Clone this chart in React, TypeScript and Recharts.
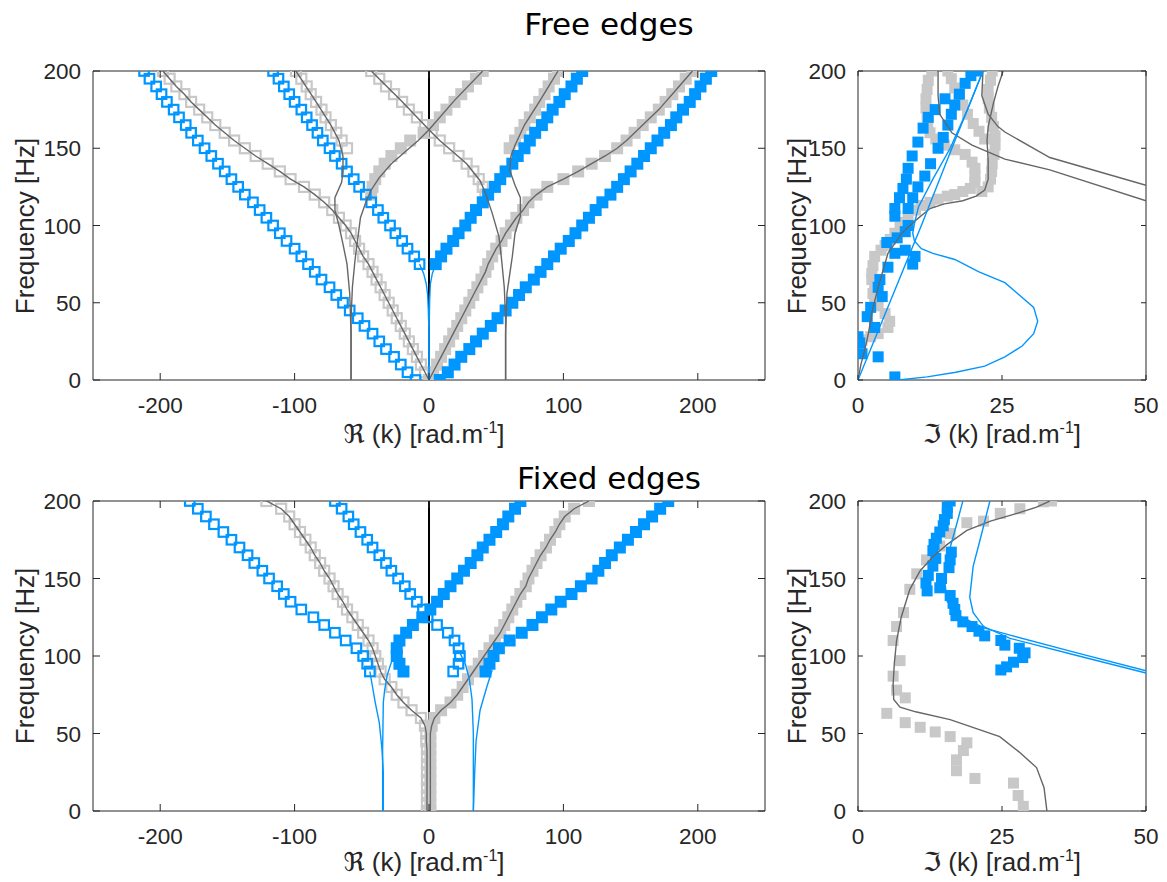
import React from "react";
import { ScatterChart, Scatter, XAxis, YAxis, ReferenceLine } from "recharts";

// shared frequency grid of the measured points [Hz]
const FREQ = [0, 5, 10, 15, 20, 25, 30, 35, 40, 45, 50, 55, 60, 65, 70, 75, 80, 85, 90, 95, 100,
  105, 110, 115, 120, 125, 130, 135, 140, 145, 150, 155, 160, 165, 170, 175, 180, 185, 190, 195, 200];

const RE_TICKS = [-200, -100, 0, 100, 200];
const IM_TICKS = [0, 25, 50];
const F_TICKS = [0, 50, 100, 150, 200];

// ---- free edges, real part (k values, starting at the given frequency)
const FREE_BLUE_OPEN_A = [-10, -16, -21, -26, -32, -37, -42, -48, -53, -59, -64, -69, -74, -80, -85, -90, -95, -100, -106, -111, -116, -121, -126, -131, -137, -142, -147, -152, -157, -162, -167, -172, -177, -181, -186, -190, -195, -199, -203, -208, -212];
const FREE_BLUE_FILLED_A = [8, 14, 19, 24, 30, 35, 40, 46, 51, 57, 62, 67, 72, 78, 83, 88, 93, 98, 104, 109, 114, 119, 124, 129, 135, 140, 145, 150, 155, 160, 165, 170, 175, 180, 184, 189, 194, 198, 202, 206, 210];
const FREE_BLUE_OPEN_B = [-7, -11, -16, -20, -25, -29, -34, -38, -43, -47, -52, -56, -61, -65, -70, -74, -79, -83, -87, -91, -95, -100, -104, -108, -112, -116]; // from 75 Hz
const FREE_BLUE_FILLED_B = [5, 9, 13, 18, 22, 27, 31, 35, 40, 44, 49, 53, 57, 62, 66, 71, 75, 79, 84, 88, 92, 97, 101, 106, 110, 114]; // from 75 Hz
const FREE_GRAY_OPEN_C = [0, -3, -6, -9, -12, -15, -18, -21, -24, -27, -30, -33, -36, -39, -42, -45, -49, -52, -55, -58, -62, -67, -72, -78, -85, -93, -103, -111, -120, -129, -137, -145, -152, -159, -165, -171, -177, -182, -188, -193, -198];
const FREE_GRAY_FILLED_C = [0, 3, 6, 9, 12, 15, 18, 21, 24, 27, 30, 33, 36, 39, 42, 44, 47, 50, 54, 57, 61, 65, 70, 74, 80, 88, 100, 111, 121, 131, 140, 147, 153, 159, 165, 171, 176, 181, 186, 191, 196];
const FREE_GRAY_OPEN_D = [-61, -65, -69, -73, -77, -80, -84, -88, -91, -95, -99]; // from 150 Hz
const FREE_GRAY_FILLED_D = [60, 64, 68, 71, 75, 79, 82, 86, 89, 93, 96]; // from 150 Hz
const FREE_GRAY_OPEN_E = [-3, -9, -15, -20, -26, -32, -37, -43]; // from 165 Hz
const FREE_GRAY_FILLED_E = [3, 8, 13, 19, 24, 29, 35, 40]; // from 165 Hz
const FREE_GRAY_OPEN_F = [42, 40, 37, 33, 28, 22, 15, 8, 2]; // from 120 Hz
const FREE_GRAY_FILLED_F = [-43, -42, -40, -37, -33, -28, -21, -14, -4]; // from 120 Hz

// model curves [k, f]
const FREE_LINE_D_NEG = [[-99, 200], [-84, 180], [-73, 165], [-67, 155], [-64, 145], [-64, 135], [-65, 128], [-70, 118], [-70, 110], [-67, 100], [-64, 88], [-61, 75], [-59, 56], [-58, 30], [-58, 0]];
const FREE_LINE_D_POS = [[96, 200], [82, 180], [71, 165], [64, 152], [61, 145], [60, 136], [64, 126], [68, 118], [68, 106], [64, 95], [62, 80], [58, 56], [57, 30], [57, 0]];
const FREE_LINE_EF_A = [[-43, 200], [-21, 181], [0, 162], [8, 155], [16, 149], [28, 140], [38, 129], [42, 121], [47, 108], [52, 93], [54, 78], [56, 60], [57, 40], [57, 0]];
const FREE_LINE_EF_B = [[40, 200], [19, 181], [0, 162], [-8, 155], [-16, 149], [-28, 140], [-37, 131], [-43, 123], [-47, 115], [-51, 105], [-55, 78], [-57, 60], [-58, 40], [-58, 0]];
const FREE_BLUE_LINE_NEG = [[-7, 75], [-4, 69], [-2, 62], [-1, 55], [-0.5, 45], [0, 30], [0, 0]];
const FREE_BLUE_LINE_POS = [[5, 75], [2.5, 69], [1, 62], [0.5, 52], [0, 30], [0, 0]];

// ---- free edges, imaginary part [k, f]
const FREE_IM_BLUE = [[6.4, 2], [3.5, 15], [0.7, 17], [0.3, 24], [0, 28], [2.9, 34], [1.6, 41], [2.2, 47], [4.2, 54], [3.5, 60], [3.8, 65], [5.2, 73], [6.4, 82], [8.2, 84], [9.9, 80], [9.5, 75], [5, 89], [6.8, 92], [8.2, 96], [8.7, 100], [6.4, 106], [6.4, 111], [7.2, 118], [7.8, 124], [8.4, 130], [8.7, 137], [9.4, 145], [10.4, 154], [11.3, 163], [12.2, 170], [13.4, 175], [15.1, 182], [8.7, 111], [9.5, 118], [10.4, 125], [11.6, 132], [12.6, 140], [13.9, 150], [14.8, 157], [15.6, 165], [16.2, 172], [16.8, 178], [17.6, 185], [18.6, 192], [19.6, 197], [20.6, 200]];
const FREE_IM_GRAY = [[0.7, 26], [2.2, 28], [3.5, 30], [5.2, 34], [5.5, 38], [4.7, 43], [3.5, 48], [2.9, 52], [2.6, 56], [2.9, 60], [2.4, 65], [2.4, 69], [2.6, 74], [2.9, 80], [4, 84], [4.7, 87], [5.6, 91], [6.4, 95], [7.3, 99], [8.2, 102], [8.7, 106], [10, 110], [11, 113], [12.5, 115], [13.9, 117], [15.5, 119], [16.8, 120], [18.2, 122], [19.5, 124], [20.3, 128], [20.3, 132], [20.3, 137], [19.8, 141], [18.6, 146], [16.8, 149], [15, 152], [13.5, 156], [12.5, 160], [12.1, 165], [12, 170], [11.8, 176], [11.8, 182], [12, 188], [12.2, 194], [12.8, 200],
  [15.6, 200], [16.2, 195], [16.8, 189], [17.5, 184], [18.2, 178], [19, 172], [20, 166], [21, 161], [22, 156],
  [23.3, 200], [23, 194], [22.6, 188], [22.6, 182], [22.8, 176], [23.2, 170], [23.5, 164], [23.8, 158], [23.8, 152], [23.6, 146], [23.3, 140], [23.2, 135], [23, 130], [22.6, 125], [21.5, 122]];
const FREE_IM_G1 = [[0, 0], [0.5, 10], [1.2, 20], [1.8, 30], [2.5, 45], [3.5, 60], [5.2, 82], [7.6, 95], [9.9, 103], [12.5, 111], [15, 114], [18.2, 116], [20.5, 119], [22, 123], [22.6, 130], [22.6, 142], [22.4, 155], [22.6, 164], [23.5, 179], [24.3, 190], [25.2, 200]];
const FREE_IM_G2 = [[13.9, 200], [13.9, 184], [14.2, 172], [16.3, 160], [19.8, 152], [25.5, 143], [33.3, 136], [50, 116]];
const FREE_IM_G3 = [[21.7, 200], [21.5, 184], [22.6, 172], [24.3, 164], [25.5, 160.5], [33.3, 144], [50, 126]];
const FREE_IM_BLUE_LOOP = [[7, 0], [12, 2], [17, 5], [22, 9], [25.5, 15], [28.5, 22], [30.5, 30], [31.2, 38], [30.5, 47], [28, 55], [25.5, 63], [21, 70], [16.8, 78], [13, 82], [11, 85], [9.8, 90], [9.5, 95], [9.9, 103], [10.5, 112], [13, 130], [16, 150], [19, 175], [21.7, 200]];
const FREE_IM_BLUE_STRAIGHT = [[0, 0], [5.5, 50], [11, 100], [16.3, 150], [21.7, 200]];

// ---- fixed edges, real part (from 90 Hz unless noted)
const FIX_BLUE_OPEN_A = [-44, -46, -49, -54, -62, -70, -78, -86, -95, -103, -108, -113, -119, -124, -130, -135, -141, -147, -153, -160, -166, -172, -178];
const FIX_BLUE_FILLED_A = [42, 45, 48, 52, 60, 69, 77, 84, 91, 98, 106, 113, 121, 126, 131, 136, 142, 148, 154, 160, 166, 172, 178];
const FIX_BLUE_OPEN_B = [18, 22, 23, 22, 19, 14, 6, -1, -4.5, -9, -14, -18, -23, -28, -32, -37, -42, -46, -51, -56, -60, -65, -70];
const FIX_BLUE_FILLED_B = [-19, -22, -24, -24, -22, -17, -12, -5, 1, 6, 11, 16, 21, 26, 31, 36, 40, 45, 50, 55, 59, 64, 68];
const FIX_GRAY_OPEN = [-1.5, -1.5, -1.5, -1.5, -1.5, -1.5, -1.5, -1.5, -1.5, -2, -2, -3, -6, -13, -19, -24, -28, -33, -36, -38, -40, -42, -45, -49, -53, -57, -61, -64, -68, -71, -74, -78, -81, -85, -88, -92, -96, -100, -104, -110, -121]; // from 0 Hz
const FIX_GRAY_FILLED = [1, 1, 1, 1, 1, 1, 1, 1, 1, 1, 1, 2, 4, 9, 16, 21, 25, 29, 33, 37, 41, 45, 49, 53, 56, 59, 62, 65, 68, 72, 74, 77, 80, 83, 87, 90, 94, 97, 101, 108, 119]; // from 0 Hz
const FIX_BLUE_LINE_A = [[-44, 90], [-42, 80], [-40, 70], [-37, 57], [-35, 40], [-34, 25], [-34, 0]];
const FIX_BLUE_LINE_B = [[-24, 102], [-28, 96], [-31, 88], [-33, 78], [-34, 70], [-34.5, 40], [-34.5, 0]];
const FIX_BLUE_LINE_C = [[47, 91], [43, 80], [38, 65], [35, 45], [34, 25], [33, 0]];
const FIX_BLUE_LINE_D = [[23, 102], [27, 95], [30, 85], [32, 72], [33, 50], [33, 0]];

// ---- fixed edges, imaginary part [k, f]
const FIX_IM_GRAY = [[28.7, 3], [27.8, 10], [27, 18], [20.3, 21], [17.1, 26], [17.1, 33], [18.3, 39], [18.9, 44], [16, 48], [13.4, 51], [10.8, 54], [8.2, 57], [5, 63], [8.2, 73], [6.7, 78], [6.1, 87], [7.3, 97], [6.1, 110], [6.7, 119], [7.9, 128], [9, 143], [10.2, 153], [11.9, 162], [14.2, 171], [16, 179], [18.9, 186], [21.8, 187], [24.7, 192], [28.1, 195], [32.2, 199.5], [33.6, 200]];
const FIX_IM_BLUE = [[16, 200], [15.5, 196], [15.5, 192], [15, 188], [14.8, 184], [14.2, 180], [13.6, 176], [13.2, 172], [13, 168], [16.2, 167], [16, 162], [15.8, 157], [13.5, 163], [13, 158], [12.2, 152], [11.8, 147], [12, 142], [14.5, 150], [14.2, 144], [16, 139], [16.5, 134], [16.8, 130], [17, 126], [18.2, 122], [19.8, 119], [21, 116], [22, 113], [24.8, 110], [25.5, 107], [28, 105], [29, 102], [28.6, 99], [27, 96], [25.8, 93], [24.8, 91]];
const FIX_IM_GRAY_LINE = [[32.8, 0], [32.3, 15], [31, 28], [28, 38], [24.6, 48], [16, 59], [10, 64], [7.3, 67], [6.2, 72], [6.1, 82], [6.3, 95], [6.7, 110], [7.5, 125], [9, 143], [10.8, 155], [13, 164], [15.5, 172], [18.9, 181], [23, 187], [27.6, 192], [31, 196], [33.3, 200]];
const FIX_IM_BLUE_LINE_A = [[18.2, 200], [17.2, 186], [16, 170], [15, 150], [15.5, 135], [18, 125], [22, 118], [26.4, 113.5], [38, 102], [50, 90.5]];
const FIX_IM_BLUE_LINE_B = [[22.9, 200], [21.2, 175], [20, 158], [19.4, 138], [20, 128], [21.8, 119], [26.4, 111.4], [38, 100.3], [50, 89]];

const BLUE = "#0096FF";
const GRAY = "#C8C8C8";
const DARK = "#666666";
const AX = "#262626";
const FONT = '"Liberation Sans", Arial, Helvetica, sans-serif';
const TICK_FS = 22.5;
const LABEL_FS = 26;

type Pt = { k: number; f: number };
type Kind = "openBlue" | "fillBlue" | "openGray" | "fillGray" | "lineGray" | "lineBlue";
type Series = { kind: Kind; data: Pt[] };

const fromF = (start: number, ks: number[]): Pt[] => {
  const i0 = FREQ.indexOf(start);
  return ks.map((k, i) => ({ k, f: FREQ[i0 + i] }));
};
const pairs = (arr: number[][]): Pt[] => arr.map(([k, f]) => ({ k, f }));

const square = (size: number, color: string, open: boolean) => (p: any) =>
  open ? (
    <rect x={p.cx - size / 2} y={p.cy - size / 2} width={size} height={size} fill="none" stroke={color} strokeWidth={2.2} />
  ) : (
    <rect x={p.cx - size / 2} y={p.cy - size / 2} width={size} height={size} fill={color} />
  );

const noShape = () => <g />;

// axis band sizes (kept > 0 so recharts draws the axes)
const XA_H = 40;
const YA_W = 60;
const TOP_H = 2;
const RIGHT_W = 2;

function Panel({
  width, height, plot, xDomain, xTicks, series, zeroLine, tickLen, big,
}: {
  width: number; height: number; plot: { top: number; right: number; bottom: number; left: number };
  xDomain: [number, number]; xTicks: number[]; series: Series[]; zeroLine?: boolean; tickLen: number; big: boolean;
}) {
  const margin = {
    top: plot.top - TOP_H,
    right: plot.right - RIGHT_W,
    bottom: plot.bottom - XA_H,
    left: plot.left - YA_W,
  };
  const bottomTick = (p: any) => (
    <g>
      <line x1={p.x} x2={p.x} y1={p.y} y2={p.y - tickLen} stroke={AX} />
      <text x={p.x} y={p.y + 33} textAnchor="middle" fontSize={TICK_FS} fill={AX} fontFamily={FONT}>{p.payload.value}</text>
    </g>
  );
  const leftTick = (p: any) => (
    <g>
      <line x1={p.x} x2={p.x + tickLen} y1={p.y} y2={p.y} stroke={AX} />
      <text x={p.x - 12} y={p.y + 8} textAnchor="end" fontSize={TICK_FS} fill={AX} fontFamily={FONT}>{p.payload.value}</text>
    </g>
  );
  const topTick = (p: any) => <line x1={p.x} x2={p.x} y1={p.y} y2={p.y + tickLen} stroke={AX} />;
  const rightTick = (p: any) => <line x1={p.x} x2={p.x - tickLen} y1={p.y} y2={p.y} stroke={AX} />;

  const fillSize = big ? 12 : 11;
  const render = (s: Series, i: number) => {
    const common = { key: i, data: s.data, xAxisId: "b", yAxisId: "l", isAnimationActive: false, legendType: "none" as const };
    switch (s.kind) {
      case "openBlue":
        return <Scatter {...common} shape={square(9.5, BLUE, true)} />;
      case "fillBlue":
        return <Scatter {...common} shape={square(fillSize, BLUE, false)} />;
      case "openGray":
        return <Scatter {...common} shape={square(10, GRAY, true)} />;
      case "fillGray":
        return <Scatter {...common} shape={square(fillSize, GRAY, false)} />;
      case "lineGray":
        return <Scatter {...common} fill="none" line={{ stroke: DARK, strokeWidth: 1.4 }} shape={noShape} />;
      default:
        return <Scatter {...common} fill="none" line={{ stroke: BLUE, strokeWidth: 1.4 }} shape={noShape} />;
    }
  };

  const markers = series.filter((s) => !s.kind.startsWith("line"));
  const lines = series.filter((s) => s.kind.startsWith("line"));

  return (
    <ScatterChart width={width} height={height} margin={margin}>
      <XAxis xAxisId="b" type="number" dataKey="k" domain={xDomain} ticks={xTicks} allowDataOverflow interval={0}
        height={XA_H} tickSize={0} tickMargin={0} tickLine={false} axisLine={{ stroke: AX }} tick={bottomTick} />
      <XAxis xAxisId="t" orientation="top" type="number" dataKey="k" domain={xDomain} ticks={xTicks} allowDataOverflow interval={0}
        height={TOP_H} tickSize={0} tickMargin={0} tickLine={false} axisLine={{ stroke: AX }} tick={topTick} />
      <YAxis yAxisId="l" type="number" dataKey="f" domain={[0, 200]} ticks={F_TICKS} allowDataOverflow interval={0}
        width={YA_W} tickSize={0} tickMargin={0} tickLine={false} axisLine={{ stroke: AX }} tick={leftTick} />
      <YAxis yAxisId="r" orientation="right" type="number" dataKey="f" domain={[0, 200]} ticks={F_TICKS} allowDataOverflow interval={0}
        width={RIGHT_W} tickSize={0} tickMargin={0} tickLine={false} axisLine={{ stroke: AX }} tick={rightTick} />
      {markers.filter((s) => s.kind.endsWith("Gray")).map(render)}
      {markers.filter((s) => s.kind.endsWith("Blue")).map(render)}
      {zeroLine && <ReferenceLine x={0} xAxisId="b" yAxisId="l" stroke="#000" strokeWidth={2} />}
      {lines.filter((s) => s.kind === "lineGray").map(render)}
      {lines.filter((s) => s.kind === "lineBlue").map(render)}
    </ScatterChart>
  );
}

const freeReal: Series[] = [
  { kind: "openGray", data: fromF(0, FREE_GRAY_OPEN_C) },
  { kind: "fillGray", data: fromF(0, FREE_GRAY_FILLED_C) },
  { kind: "openGray", data: fromF(150, FREE_GRAY_OPEN_D) },
  { kind: "fillGray", data: fromF(150, FREE_GRAY_FILLED_D) },
  { kind: "openGray", data: fromF(165, FREE_GRAY_OPEN_E) },
  { kind: "fillGray", data: fromF(165, FREE_GRAY_FILLED_E) },
  { kind: "openGray", data: fromF(120, FREE_GRAY_OPEN_F) },
  { kind: "fillGray", data: fromF(120, FREE_GRAY_FILLED_F) },
  { kind: "openBlue", data: fromF(0, FREE_BLUE_OPEN_A) },
  { kind: "fillBlue", data: fromF(0, FREE_BLUE_FILLED_A) },
  { kind: "openBlue", data: fromF(75, FREE_BLUE_OPEN_B) },
  { kind: "fillBlue", data: fromF(75, FREE_BLUE_FILLED_B) },
  { kind: "lineGray", data: [...fromF(0, FREE_GRAY_OPEN_C).reverse(), ...fromF(0, FREE_GRAY_FILLED_C)] },
  { kind: "lineGray", data: pairs(FREE_LINE_D_NEG) },
  { kind: "lineGray", data: pairs(FREE_LINE_D_POS) },
  { kind: "lineGray", data: pairs(FREE_LINE_EF_A) },
  { kind: "lineGray", data: pairs(FREE_LINE_EF_B) },
  { kind: "lineBlue", data: pairs(FREE_BLUE_LINE_NEG) },
  { kind: "lineBlue", data: pairs(FREE_BLUE_LINE_POS) },
];

const freeImag: Series[] = [
  { kind: "fillGray", data: pairs(FREE_IM_GRAY) },
  { kind: "fillBlue", data: pairs(FREE_IM_BLUE) },
  { kind: "lineGray", data: pairs(FREE_IM_G1) },
  { kind: "lineGray", data: pairs(FREE_IM_G2) },
  { kind: "lineGray", data: pairs(FREE_IM_G3) },
  { kind: "lineBlue", data: pairs(FREE_IM_BLUE_LOOP) },
  { kind: "lineBlue", data: pairs(FREE_IM_BLUE_STRAIGHT) },
];

const fixReal: Series[] = [
  { kind: "openGray", data: fromF(0, FIX_GRAY_OPEN) },
  { kind: "fillGray", data: fromF(0, FIX_GRAY_FILLED) },
  { kind: "openBlue", data: fromF(90, FIX_BLUE_OPEN_A) },
  { kind: "fillBlue", data: fromF(90, FIX_BLUE_FILLED_A) },
  { kind: "openBlue", data: fromF(90, FIX_BLUE_OPEN_B) },
  { kind: "fillBlue", data: fromF(90, FIX_BLUE_FILLED_B) },
  { kind: "lineGray", data: [...fromF(0, FIX_GRAY_OPEN).reverse(), ...fromF(0, FIX_GRAY_FILLED)] },
  { kind: "lineBlue", data: pairs(FIX_BLUE_LINE_A) },
  { kind: "lineBlue", data: pairs(FIX_BLUE_LINE_B) },
  { kind: "lineBlue", data: pairs(FIX_BLUE_LINE_C) },
  { kind: "lineBlue", data: pairs(FIX_BLUE_LINE_D) },
];

const fixImag: Series[] = [
  { kind: "fillGray", data: pairs(FIX_IM_GRAY) },
  { kind: "fillBlue", data: pairs(FIX_IM_BLUE) },
  { kind: "lineGray", data: pairs(FIX_IM_GRAY_LINE) },
  { kind: "lineBlue", data: pairs(FIX_IM_BLUE_LINE_A) },
  { kind: "lineBlue", data: pairs(FIX_IM_BLUE_LINE_B) },
];

const txt: React.CSSProperties = {
  position: "absolute", fontFamily: FONT, fontSize: LABEL_FS, color: AX, whiteSpace: "nowrap", lineHeight: 1,
};
const title: React.CSSProperties = {
  position: "absolute", fontFamily: '"DejaVu Sans", Verdana, sans-serif', fontSize: 31, color: "#000",
  whiteSpace: "nowrap", lineHeight: 1, transform: "translateX(-50%)",
};
const sup = <sup style={{ fontSize: 16, lineHeight: 0 }}>-1</sup>;

function XLabel({ x, y, re }: { x: number; y: number; re: boolean }) {
  return (
    <div style={{ ...txt, left: x, top: y, transform: "translate(-50%,-50%)" }}>
      <span style={{ fontFamily: '"DejaVu Sans", sans-serif' }}>{re ? "\u211C" : "\u2111"}</span> (k) [rad.m{sup}]
    </div>
  );
}
function YLabel({ x, y }: { x: number; y: number }) {
  return (
    <div style={{ ...txt, left: x, top: y, transform: "translate(-50%,-50%) rotate(-90deg)" }}>Frequency [Hz]</div>
  );
}

export default function App() {
  const leftPlot = { top: 31, right: 25, bottom: 80, left: 93 };
  const rightPlot = { top: 31, right: 21, bottom: 80, left: 68 };
  const leftPlotB = { top: 31, right: 25, bottom: 79, left: 93 };
  const rightPlotB = { top: 31, right: 21, bottom: 79, left: 68 };
  return (
    <div style={{ position: "absolute", left: 0, top: 0, width: 1167, height: 882, background: "#fff", overflow: "hidden" }}>
      <div style={{ position: "absolute", left: 0, top: 40 }}>
        <Panel width={790} height={420} plot={leftPlot} xDomain={[-250, 250]} xTicks={RE_TICKS} series={freeReal} zeroLine tickLen={7} big />
      </div>
      <div style={{ position: "absolute", left: 790, top: 40 }}>
        <Panel width={377} height={420} plot={rightPlot} xDomain={[0, 50]} xTicks={IM_TICKS} series={freeImag} tickLen={5} big={false} />
      </div>
      <div style={{ position: "absolute", left: 0, top: 470 }}>
        <Panel width={790} height={420} plot={leftPlotB} xDomain={[-250, 250]} xTicks={RE_TICKS} series={fixReal} zeroLine tickLen={7} big />
      </div>
      <div style={{ position: "absolute", left: 790, top: 470 }}>
        <Panel width={377} height={420} plot={rightPlotB} xDomain={[0, 50]} xTicks={IM_TICKS} series={fixImag} tickLen={5} big={false} />
      </div>

      <div style={{ ...title, left: 609, top: 9 }}>Free edges</div>
      <div style={{ ...title, left: 609, top: 463 }}>Fixed edges</div>

      <XLabel x={424} y={434} re />
      <XLabel x={1002} y={434} re={false} />
      <XLabel x={424} y={862} re />
      <XLabel x={1002} y={862} re={false} />
      <YLabel x={25} y={226} />
      <YLabel x={797} y={226} />
      <YLabel x={25} y={656} />
      <YLabel x={797} y={656} />
    </div>
  );
}
